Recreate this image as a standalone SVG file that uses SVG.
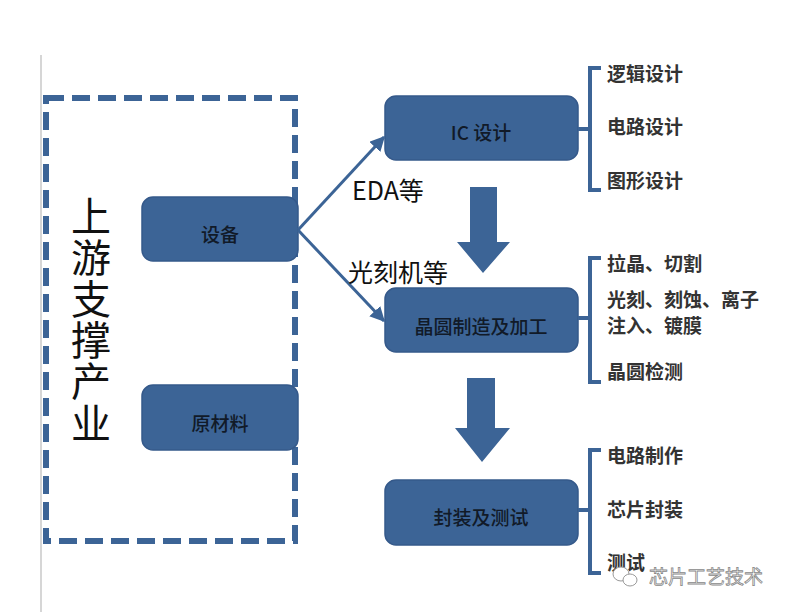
<svg xmlns="http://www.w3.org/2000/svg" width="789" height="612" viewBox="0 0 789 612">
<style>
.node{fill:#3c6496;stroke:#35598a;stroke-width:1.5}
.nt{font-family:"Noto Sans CJK SC","Liberation Sans",sans-serif;font-size:19px;fill:#111a28;text-anchor:middle;font-weight:500}
.rt{font-family:"Noto Sans CJK SC",sans-serif;font-size:19px;fill:#333;font-weight:700}
.lbl{font-family:"Noto Sans CJK SC","Liberation Sans",sans-serif;font-size:25px;fill:#111}
.br{fill:none;stroke:#3c6496;stroke-width:4}
.con{fill:none;stroke:#3c6496;stroke-width:3}
</style>
<defs>
<marker id="ah" viewBox="0 0 10 10" refX="9" refY="5" markerWidth="5" markerHeight="5" orient="auto" markerUnits="strokeWidth">
<path d="M0,0 L10,5 L0,10 z" fill="#3c6496"/>
</marker>
</defs>
<rect width="789" height="612" fill="#fff"/>
<line x1="41" y1="55" x2="41" y2="612" stroke="#c8c8c8" stroke-width="1.5"/>
<g id="upstream">
<rect x="46" y="98" width="249" height="443" fill="none" stroke="#3c6496" stroke-width="6" stroke-dasharray="18,8"/>
<text x="91" y="196" writing-mode="vertical-rl" letter-spacing="1.3" font-family="Noto Sans CJK SC,sans-serif" font-size="40" fill="#111">上游支撑产业</text>
</g>
<g id="equipment"><rect class="node" x="142" y="197" width="156" height="64" rx="11"/><text class="nt" x="220" y="242">设备</text></g>
<g id="materials"><rect class="node" x="142" y="385" width="156" height="65" rx="11"/><text class="nt" x="220" y="431">原材料</text></g>
<g id="ic"><rect class="node" x="385" y="96" width="193" height="64" rx="11"/><text class="nt" x="481" y="140">IC 设计</text></g>
<g id="wafer"><rect class="node" x="385" y="288" width="193" height="64" rx="11"/><text class="nt" x="481" y="334">晶圆制造及加工</text></g>
<g id="package"><rect class="node" x="385" y="480" width="193" height="65" rx="11"/><text class="nt" x="481" y="525">封装及测试</text></g>
<g id="connectors">
<path class="con" d="M298,230 L384,137" marker-end="url(#ah)"/>
<path class="con" d="M298,230 L384,321" marker-end="url(#ah)"/>
<path d="M470,187 H497 V242 H510 L483,273 L457,242 H470 Z" fill="#3c6496"/>
<path d="M467,378 H495 V428 H510 L482,462 L455,428 H467 Z" fill="#3c6496"/>
<path class="br" d="M601,68 H590 V190 H601 M590,129 H578"/>
<path class="br" d="M601,258 H590 V382 H601 M590,318 H578"/>
<path class="br" d="M601,450 H590 V573 H601 M590,510 H578"/>
</g>
<text class="lbl" x="352" y="200">EDA等</text>
<text class="lbl" x="348" y="282">光刻机等</text>
<text class="rt" x="607" y="81">逻辑设计</text>
<text class="rt" x="607" y="134">电路设计</text>
<text class="rt" x="607" y="188">图形设计</text>
<text class="rt" x="607" y="271">拉晶、切割</text>
<text class="rt" x="607" y="307">光刻、刻蚀、离子</text>
<text class="rt" x="607" y="333">注入、镀膜</text>
<text class="rt" x="607" y="379">晶圆检测</text>
<text class="rt" x="607" y="463">电路制作</text>
<text class="rt" x="607" y="517">芯片封装</text>
<text class="rt" x="607" y="570">测试</text>
<g fill="#fff" stroke="#999" stroke-width="1">
<ellipse cx="621" cy="574" rx="8" ry="7"/>
<ellipse cx="630" cy="580" rx="7" ry="6"/>
</g>
<text x="649" y="584" font-family="Noto Sans CJK SC,sans-serif" font-size="19" fill="#fff" stroke="#888" stroke-width="0.8">芯片工艺技术</text>
</svg>
